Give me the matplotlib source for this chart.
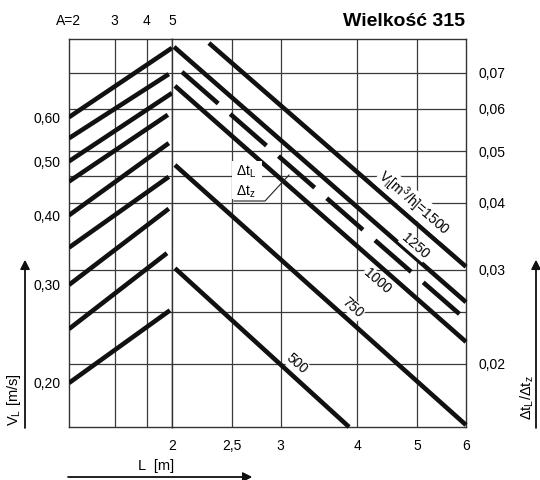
import matplotlib
matplotlib.use('Agg')

import matplotlib.pyplot as plt
from matplotlib.ticker import NullLocator
from matplotlib.lines import Line2D

plt.rcParams['font.family'] = ['Liberation Sans', 'DejaVu Sans']
plt.rcParams['mathtext.fontset'] = 'custom'
plt.rcParams['mathtext.rm'] = 'Liberation Sans'
plt.rcParams['mathtext.it'] = 'Liberation Sans:italic'

# -------------------
# Data
# -------------------
# left part: V_L lines over A (A=2 -> A=5)
a_start = [2, 2, 2, 2, 2, 2, 2, 2, 2]
a_end = [5.0, 4.86, 5.0, 4.82, 4.86, 4.86, 4.86, 4.78, 4.91]
vl_start = [0.60, 0.55, 0.50, 0.46, 0.40, 0.35, 0.30, 0.25, 0.20]
vl_end = [0.799, 0.717, 0.663, 0.606, 0.539, 0.469, 0.411, 0.342, 0.270]

# right part: dt_L/dt_z over L for each air flow
L_start = [2.296, 2.015, 2.076, 2.022, 2.022, 2.022]
dt_start = [0.0796, 0.0783, 0.0703, 0.0662, 0.0471, 0.0302]
L_end = [6.0, 6.0, 6.0, 6.0, 6.0, 3.876]
dt_end = [0.0304, 0.0261, 0.0242, 0.0220, 0.01538, 0.01525]
dashed = [False, False, True, False, False, False]

# flow labels (text, L, dt)
flow_text = [r'V$_\mathrm{l}$[m$^\mathrm{3}$/h]=1500', '1250', '1000', '750', '500']
flow_L = [4.94, 4.96, 4.30, 3.93, 3.19]
flow_dt = [0.0400, 0.0332, 0.0286, 0.0255, 0.0200]

# axis ticks
A_ticks = [2, 3, 4, 5]
A_labels = ['A=2', '3', '4', '5']
L_ticks = [2, 2.5, 3, 4, 5, 6]
L_labels = ['2', '2,5', '3', '4', '5', '6']
dt_ticks = [0.02, 0.03, 0.04, 0.05, 0.06, 0.07]
dt_labels = ['0,02', '0,03', '0,04', '0,05', '0,06', '0,07']
dt_grid = [0.02, 0.025, 0.03, 0.04, 0.045, 0.05, 0.06, 0.07]
vl_ticks = [0.2, 0.3, 0.4, 0.5, 0.6]
vl_labels = ['0,20', '0,30', '0,40', '0,50', '0,60']

W, H = 540, 480
DT_LIM = (0.01525, 0.081)
VL_LIM = (0.1667, 0.829)
LW = 3.3
GRID = dict(color='#3a3a3a', lw=0.9, zorder=1)


def fx(x):
    return x / W


def fy(y):
    return 1 - y / H


fig = plt.figure(figsize=(5.4, 4.8), dpi=100)
bottom, height = fy(427), 388 / H
ax_l = fig.add_axes([fx(69), bottom, 103 / W, height])
ax_r = fig.add_axes([fx(172), bottom, 294 / W, height])

for ax in (ax_l, ax_r):
    ax.set_xscale('log')
    ax.set_yscale('log')
    ax.set_ylim(*DT_LIM)
    for s in ax.spines.values():
        s.set_color('#333333')
        s.set_linewidth(1.0)
    for y in dt_grid:
        ax.axhline(y, **GRID)
    ax.xaxis.set_minor_locator(NullLocator())
    ax.yaxis.set_minor_locator(NullLocator())
    ax.tick_params(length=0, labelsize=10)

# ---- left axes (A / V_L)
ax_l.set_xlim(2, 5)
ax_l.set_yticks([])
ax_l.xaxis.tick_top()
ax_l.set_xticks(A_ticks)
ax_l.set_xticklabels(A_labels)
ax_l.tick_params(axis='x', pad=8)
for a in [3, 4]:
    ax_l.axvline(a, **GRID)

ax_v = ax_l.twinx()
ax_v.set_yscale('log')
ax_v.set_ylim(*VL_LIM)
ax_v.yaxis.set_minor_locator(NullLocator())
ax_v.yaxis.tick_left()
ax_v.set_yticks(vl_ticks)
ax_v.set_yticklabels(vl_labels)
ax_v.tick_params(length=0, labelsize=10, pad=6)
for s in ax_v.spines.values():
    s.set_visible(False)
for i in range(len(vl_start)):
    ax_v.plot([a_start[i], a_end[i]], [vl_start[i], vl_end[i]],
              color='#111111', lw=LW, solid_capstyle='butt', zorder=3)

# ---- right axes (L / dt)
ax_r.set_xlim(2, 6)
ax_r.set_xticks(L_ticks)
ax_r.set_xticklabels(L_labels)
ax_r.tick_params(axis='x', pad=9)
ax_r.yaxis.tick_right()
ax_r.set_yticks(dt_ticks)
ax_r.set_yticklabels(dt_labels)
ax_r.tick_params(axis='y', pad=9)
for l in [2.5, 3, 4, 5]:
    ax_r.axvline(l, **GRID)

for i in range(len(L_start)):
    ls = (0, (34.6 / LW, 11.5 / LW)) if dashed[i] else '-'
    ax_r.plot([L_start[i], L_end[i]], [dt_start[i], dt_end[i]],
              color='#111111', lw=LW, ls=ls, solid_capstyle='butt',
              dash_capstyle='butt', zorder=3, clip_on=False)

for t, l, d in zip(flow_text, flow_L, flow_dt):
    ax_r.text(l, d, t, rotation=-41, ha='center', va='center', fontsize=10,
              rotation_mode='anchor', zorder=4,
              bbox=dict(boxstyle='square,pad=0.05', fc='white', ec='none'))

# ---- dt_L / dt_z marker in the middle
fig.patches.append(plt.Rectangle((fx(232), fy(199)), 30 / W, 38 / H,
                                 transform=fig.transFigure, fc='white',
                                 ec='none', zorder=2))
fig.text(fx(246), fy(172), r'$\Delta$t$_\mathrm{L}$', ha='center', va='center',
         fontsize=10, zorder=5)
fig.text(fx(246), fy(192), r'$\Delta$t$_\mathrm{z}$', ha='center', va='center',
         fontsize=10, zorder=5)
fig.add_artist(Line2D([fx(235), fx(257)], [fy(182), fy(182)], color='#222222', lw=0.8))
fig.add_artist(Line2D([fx(234), fx(265), fx(289)], [fy(201), fy(201), fy(175)],
                      color='#222222', lw=0.8))

# ---- title and axis names
fig.text(fx(465), fy(21), 'Wielkość 315', ha='right', va='center',
         fontsize=14, fontweight='bold')
fig.text(fx(156), fy(466), 'L  [m]', ha='center', va='center', fontsize=10.5)
fig.text(fx(14), fy(400), r'V$_\mathrm{L}$ [m/s]', ha='center', va='center',
         rotation=90, fontsize=10.5)
fig.text(fx(527), fy(398), r'$\Delta$t$_\mathrm{L}$/$\Delta$t$_\mathrm{z}$',
         ha='center', va='center', rotation=90, fontsize=10.5)

arrow = dict(arrowstyle='-|>', lw=1.0, color='#111111', mutation_scale=14,
             shrinkA=0, shrinkB=0)
fig.add_artist(plt.annotate('', xy=(fx(252), fy(477)), xytext=(fx(68), fy(477)),
                            xycoords='figure fraction', arrowprops=arrow))
fig.add_artist(plt.annotate('', xy=(fx(25), fy(260)), xytext=(fx(25), fy(428)),
                            xycoords='figure fraction', arrowprops=arrow))
fig.add_artist(plt.annotate('', xy=(fx(536), fy(260)), xytext=(fx(536), fy(428)),
                            xycoords='figure fraction', arrowprops=arrow))

fig.savefig('out.png', dpi=100)
